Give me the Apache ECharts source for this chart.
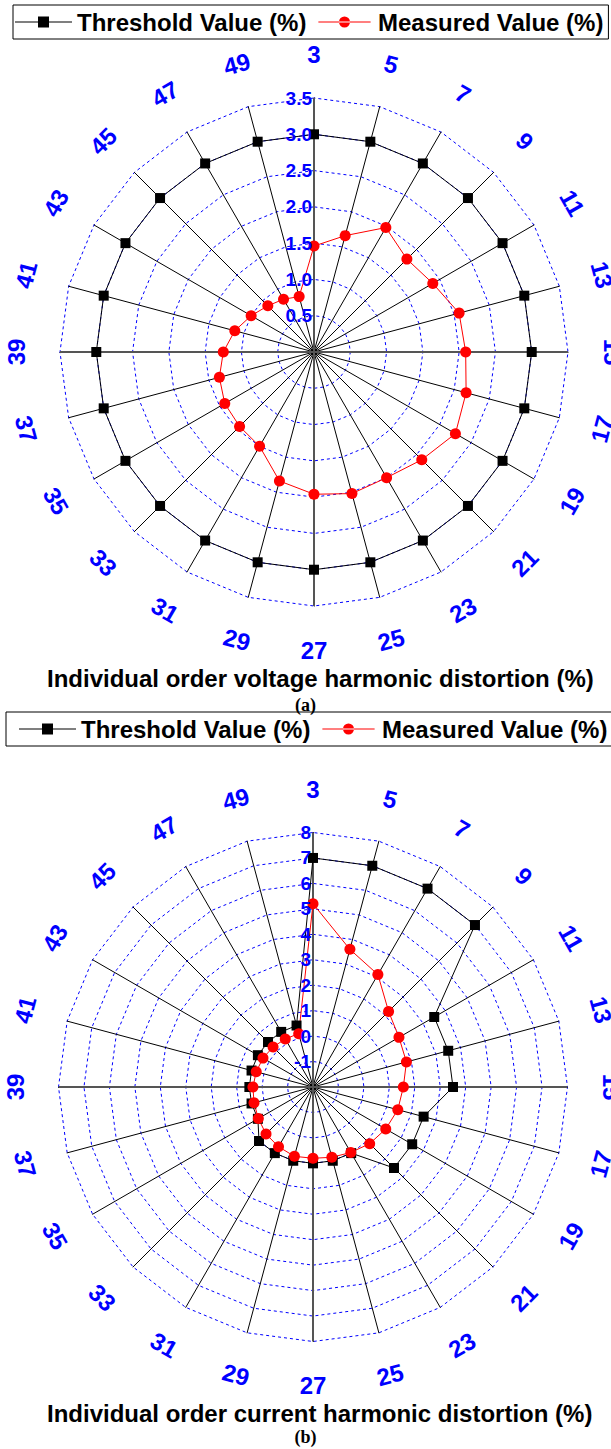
<!DOCTYPE html>
<html><head><meta charset="utf-8">
<script src="https://cdn.jsdelivr.net/npm/echarts@6/dist/echarts.min.js"></script>
<style>html,body{margin:0;padding:0;background:#fff}#c{width:611px;height:1449px}</style>
</head><body><div id="c"></div>
<script>
const harmonicOrders = ['3','5','7','9','11','13','15','17','19','21','23','25','27','29','31','33','35','37','39','41','43','45','47','49'];
const voltageThreshold = [3,3,3,3,3,3,3,3,3,3,3,3,3,3,3,3,3,3,3,3,3,3,3,3];
const voltageMeasured = [1.46,1.66,1.98,1.81,1.89,2.07,2.09,2.17,2.25,2.10,2.0,2.02,1.96,1.84,1.5,1.45,1.42,1.35,1.25,1.13,1.0,0.9,0.84,0.79];
const currentThreshold = [7,7,7,7,3.5,3.5,3.5,2.5,2.5,2.5,1,1,1,1,1,1,0.5,0.5,0.5,0.5,0.5,0.5,0.5,0.5];
const currentMeasured = [5.2,3.6,3.1,2.2,1.9,1.8,1.55,1.45,1.3,1.15,0.97,0.86,0.8,0.82,0.71,0.61,0.48,0.4,0.36,0.31,0.27,0.22,0.18,0.17];
const voltageTicks = [0,0.5,1.0,1.5,2.0,2.5,3.0,3.5];
const currentTicks = [-2,-1,0,1,2,3,4,5,6,7,8];
const seriesNames = ['Threshold Value (%)','Measured Value (%)'];
const titles = ['Individual order voltage harmonic distortion (%)','Individual order current harmonic distortion (%)'];
const subtitles = ['(a)','(b)'];

const FONT = '"Liberation Sans", Arial, sans-serif';
const layout = [
  {cx:314, cy:352, r:254, legendLeft:13, legendTop:5, legendPadLeft:2, titleTop:666, subTop:696},
  {cx:313, cy:1087, r:254.5, legendLeft:6, legendTop:712, legendPadLeft:13, titleTop:1401, subTop:1428}
];
const ticksets = [voltageTicks, currentTicks];
const datasets = [[voltageThreshold, voltageMeasured],[currentThreshold, currentMeasured]];

// ECharts radar goes counter-clockwise; reorder so categories run clockwise
function ccw(arr){ return [arr[0]].concat(arr.slice(1).reverse()); }

const iconThreshold = 'path://M0,5L57,5L57,6L0,6Z M23,0L34,0L34,11L23,11Z';
const iconMeasured = 'path://M0,5L57,5L57,6L0,6Z M22.5,5.5A6,6,0,1,0,34.5,5.5A6,6,0,1,0,22.5,5.5Z';

const radar = [], series = [], polar = [], angleAxis = [], radiusAxis = [], legend = [], title = [], graphic = [];
layout.forEach((L, k) => {
  const ticks = ticksets[k];
  const mn = ticks[0], mx = ticks[ticks.length-1];
  radar.push({
    center:[L.cx, L.cy], radius:L.r, startAngle:90, shape:'polygon', splitNumber:ticks.length-1, z:1,
    indicator: ccw(harmonicOrders).map(n => ({name:n, min:mn, max:mx})),
    axisName:{show:false},
    axisLine:{lineStyle:{color:'#000', width:1}},
    axisTick:{show:false},
    splitLine:{lineStyle:{color:'#0000ff', width:1, type:[3,3]}},
    splitArea:{show:false}
  });
  const [thr, mea] = datasets[k];
  series.push({
    type:'radar', radarIndex:k, silent:true, z:3,
    data:[
      {name:seriesNames[0], value:ccw(thr), symbol:'rect', symbolSize:10,
       itemStyle:{color:'#000'}, lineStyle:{color:'#000', width:1}},
      {name:seriesNames[1], value:ccw(mea), symbol:'circle', symbolSize:11,
       itemStyle:{color:'#ff0000'}, lineStyle:{color:'#ff0000', width:1}}
    ]
  });
  polar.push({center:[L.cx, L.cy], radius:L.r});
  angleAxis.push({polarIndex:k, type:'value', min:0, max:360, interval:90, startAngle:90, z:2,
    axisLine:{show:false}, axisTick:{show:false}, axisLabel:{show:false},
    splitLine:{show:true, lineStyle:{color:'#555', width:2}}});
  radiusAxis.push({
    polarIndex:k, type:'value', min:mn, max:mx, interval:ticks[1]-ticks[0], z:20,
    axisLine:{show:false}, axisTick:{show:false}, splitLine:{show:false},
    axisLabel:{showMinLabel:false, color:'#0000ff', fontWeight:'bold', fontSize:19, fontFamily:FONT, margin:2,
      formatter: v => (k===0 ? v.toFixed(1) : String(v))}
  });
  legend.push({
    data:[{name:seriesNames[0], icon:iconThreshold},{name:seriesNames[1], icon:iconMeasured}],
    left:L.legendLeft, top:L.legendTop, orient:'horizontal',
    padding:[5,5,5,L.legendPadLeft], itemGap:12, itemWidth:57, itemHeight:11,
    borderColor:'#000', borderWidth:1, borderRadius:0,
    textStyle:{fontSize:24, fontWeight:'bold', color:'#000', fontFamily:FONT}
  });
  title.push({text:titles[k], left:47, top:L.titleTop, padding:0,
    textStyle:{fontSize:24, fontWeight:'bold', color:'#000', fontFamily:FONT}});
  title.push({text:subtitles[k], left:'center', top:L.subTop, padding:0,
    textStyle:{fontSize:18, fontWeight:'bold', color:'#000', fontFamily:'"Liberation Serif", "Times New Roman", serif'}});
  const n = harmonicOrders.length, R = 298;
  harmonicOrders.forEach((name, i) => {
    const a = i*360/n, rad = a*Math.PI/180;
    const x = L.cx + R*Math.sin(rad), y = L.cy - R*Math.cos(rad);
    const rot = (a>90 && a<270) ? a-180 : (a>=270 ? a-360 : a);
    graphic.push({type:'text', x:x, y:y, rotation:-rot*Math.PI/180, z:50, silent:true,
      style:{text:name, fill:'#0000ff', fontSize:24, fontWeight:'bold', fontFamily:FONT,
        align:'center', verticalAlign:'middle', textAlign:'center', textVerticalAlign:'middle'}});
  });
});

const chart = echarts.init(document.getElementById('c'), null, {renderer:'svg', width:611, height:1449});
chart.setOption({
  backgroundColor:'#fff', animation:false,
  title, legend, radar, polar, angleAxis, radiusAxis, series, graphic
});
</script></body></html>
